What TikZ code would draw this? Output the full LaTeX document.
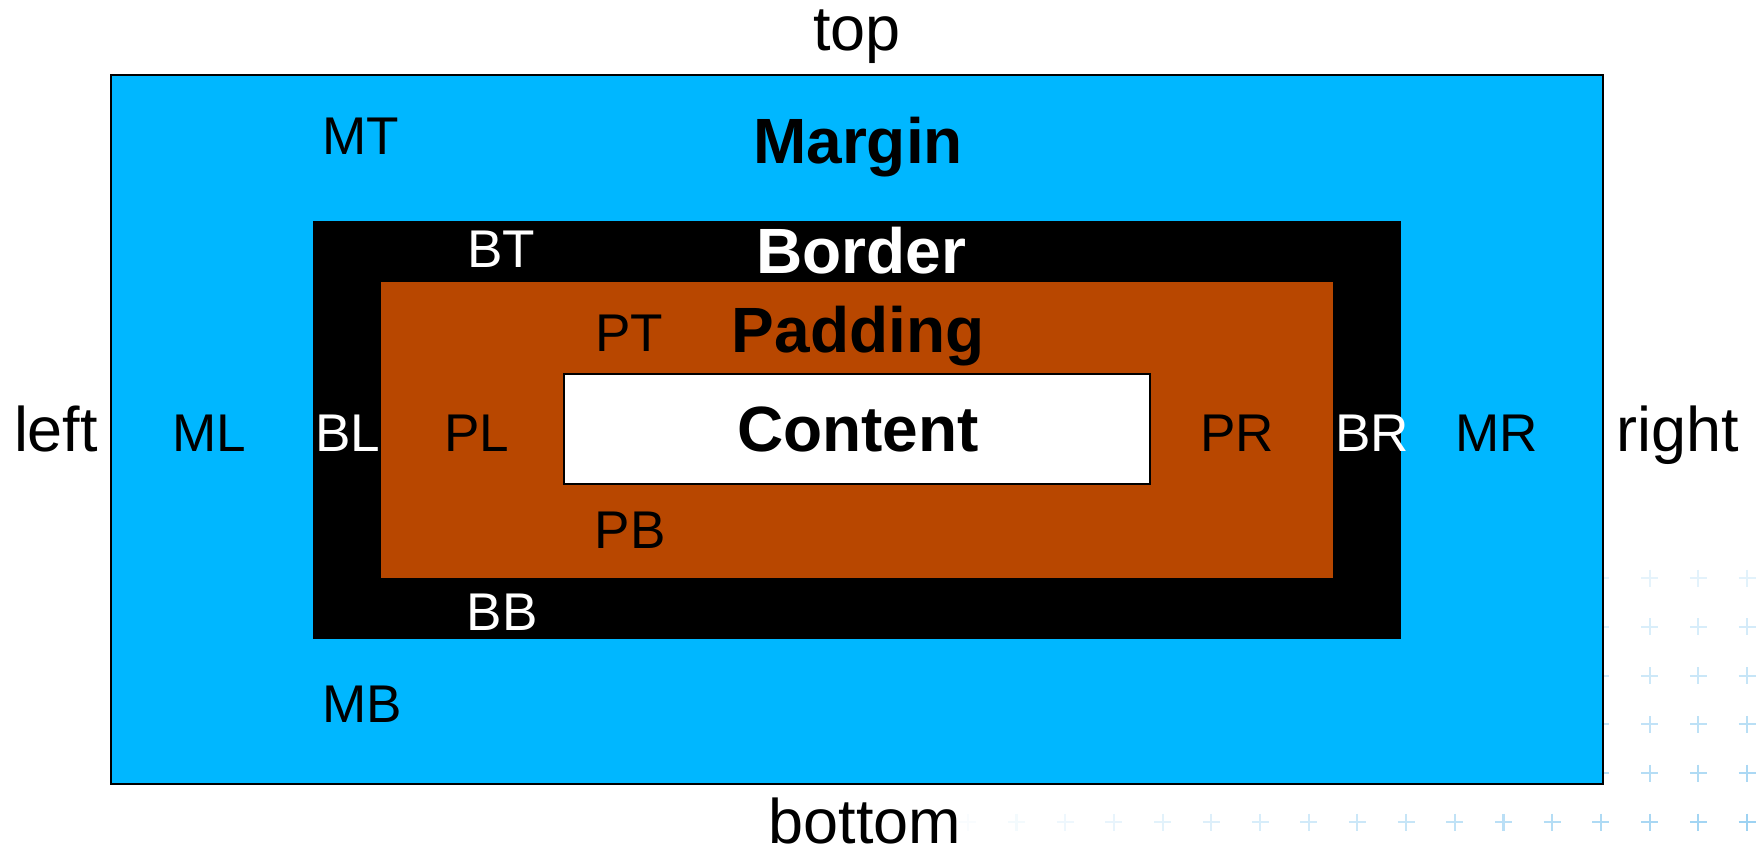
\documentclass[tikz,border=0pt]{standalone}
\usepackage{fontspec}
\setmainfont{Liberation Sans}
\usepackage{tikz}

\definecolor{marginblue}{RGB}{0,183,255}
\definecolor{paddingbrown}{RGB}{184,71,0}
\definecolor{plusblue}{RGB}{70,170,230}

\tikzset{
	side/.style = {anchor = base, inner sep = 0pt, font = \fontsize{17.9}{20}\selectfont},
	lbl/.style = {anchor = base, inner sep = 0pt, font = \fontsize{15.1}{18}\selectfont},
	boxname/.style = {anchor = base, inner sep = 0pt, font = \fontsize{18.2}{22}\selectfont\bfseries}
}

\begin{document}
\begin{tikzpicture}[x = 0.01cm, y = -0.01cm]

\useasboundingbox (0,0) rectangle (1758,849);

%% Draw Plus Pattern

\foreach \k in {0 ,..., 16}{
	\foreach \j in {0 ,..., 5}{
		\pgfmathsetmacro{\op}{0.03 + 0.5*((16-\k)/16)*(0.25+0.15*\j)}
		\draw [plusblue, line width = 0.6pt, opacity = \op]
			(1747-48.7*\k-8.5, 578+48.8*\j) -- ++(17,0)
			(1747-48.7*\k, 578+48.8*\j-8.5) -- ++(0,17);
	}
}

%% Draw Margin

\filldraw [fill = marginblue, draw = black, line width = 0.75pt] (111,75) rectangle (1603,784);

%% Draw Border

\fill [black] (313,221) rectangle (1401,639);

%% Draw Padding

\fill [paddingbrown] (381,282) rectangle (1333,578);

%% Draw Content

\filldraw [fill = white, draw = black, line width = 0.45pt] (564,374) rectangle (1150,484);

%%% Sides

\node[side] (top) at (857, 51) {top};
\node[side] (bottom) at (865, 843) {bottom};
\node[side] (left) at (56, 451) {left};
\node[side] (right) at (1678, 451) {right};

%%% Box names

\node[boxname] (margin) at (858, 164) {Margin};
\node[boxname, white] (border) at (861, 274) {Border};
\node[boxname] (padding) at (858, 353) {Padding};
\node[boxname] (content) at (858, 452) {Content};

%%% Margin labels

\node[lbl] (mt) at (361, 155) {MT};
\node[lbl] (mb) at (362, 722) {MB};
\node[lbl] (ml) at (209, 451) {ML};
\node[lbl] (mr) at (1497, 451) {MR};

%%% Border labels

\node[lbl, white] (bt) at (501, 268) {BT};
\node[lbl, white] (bb) at (502, 630) {BB};
\node[lbl, white] (bl) at (348, 451) {BL};
\node[lbl, white] (br) at (1372, 451) {BR};

%%% Padding labels

\node[lbl] (pt) at (629, 352) {PT};
\node[lbl] (pb) at (630, 548) {PB};
\node[lbl] (pl) at (477, 451) {PL};
\node[lbl] (pr) at (1237, 451) {PR};

\end{tikzpicture}
\end{document}
